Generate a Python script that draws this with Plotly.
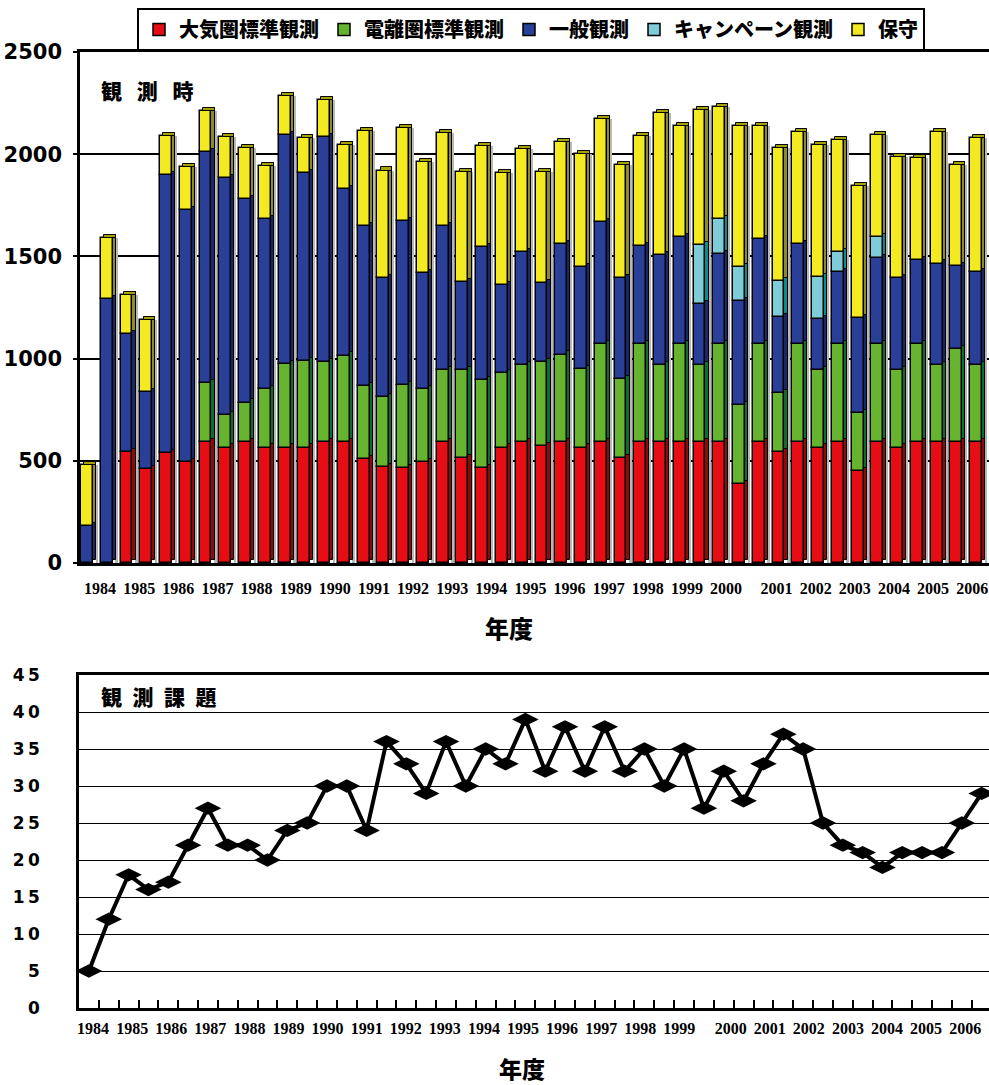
import numpy as np
import plotly.graph_objects as go

# ---------------- data ----------------
years = [str(y) for y in range(1984, 2007)]
series_names = ["大気圏標準観測", "電離圏標準観測", "一般観測", "キャンペーン観測", "保守"]

red = [0, 0, 545, 460, 540, 495, 590, 565, 590, 565, 565, 565, 590, 590, 510, 470,
       465, 495, 590, 515, 465, 565, 590, 570, 590, 565, 590, 515, 590, 590, 590, 590,
       590, 385, 590, 545, 590, 565, 590, 450, 590, 565, 590, 590, 590, 590]
green = [0, 0, 0, 0, 0, 0, 290, 160, 195, 285, 410, 425, 395, 425, 355, 340,
         405, 355, 355, 430, 430, 365, 380, 415, 430, 385, 480, 385, 480, 380, 480, 380,
         480, 390, 480, 285, 480, 380, 480, 285, 480, 380, 480, 380, 455, 380]
blue = [180, 1290, 575, 375, 1360, 1230, 1130, 1160, 995, 835, 1120, 920, 1100, 815, 785, 585,
        805, 570, 705, 430, 650, 430, 550, 385, 540, 500, 600, 495, 480, 535, 525, 295,
        440, 505, 515, 375, 490, 250, 355, 465, 420, 450, 410, 495, 410, 455]
cyan = [0, 0, 0, 0, 0, 0, 0, 0, 0, 0, 0, 0, 0, 0, 0, 0,
        0, 0, 0, 0, 0, 0, 0, 0, 0, 0, 0, 0, 0, 0, 0, 290,
        175, 170, 0, 175, 0, 205, 95, 0, 105, 0, 0, 0, 0, 0]
yellow = [300, 300, 190, 355, 190, 210, 200, 200, 250, 255, 190, 170, 180, 215, 465, 525,
          455, 540, 455, 540, 495, 550, 505, 545, 500, 550, 500, 550, 540, 695, 545, 660,
          545, 690, 555, 650, 550, 645, 550, 645, 500, 590, 500, 645, 490, 655]

topics = [5, 12, 18, 16, 17, 22, 27, 22, 22, 20, 24, 25, 30, 30, 24, 36, 33, 29, 36, 30,
          35, 33, 39, 32, 38, 32, 38, 32, 35, 30, 35, 27, 32, 28, 33, 37, 35, 25, 22, 21,
          19, 21, 21, 21, 25, 29]

top_yticks = [0, 500, 1000, 1500, 2000, 2500]
bot_yticks = [0, 5, 10, 15, 20, 25, 30, 35, 40, 45]

# ---------------- style ----------------
front_cols = ["#E60D14", "#66B32F", "#2A3F98", "#7FCCD9", "#F3EA22"]
side_cols = ["#8E0B0B", "#0F6B2E", "#1B2868", "#0C8A8C", "#8C8A2C"]
cap_col = "#A8A000"
W, D, DY = 0.6, 0.16, 15.0

W_PX, H_PX = 989, 1085
def px_x(p):
    return p / W_PX
def px_y(p):
    return 1 - p / H_PX

n = len(red)
xs = np.arange(n)
stack = np.array([red, green, blue, cyan, yellow], dtype=float)
cum = np.vstack([np.zeros(n), np.cumsum(stack, axis=0)])
totals = cum[-1]

fig = go.Figure()

# shadow strip on back wall
fig.add_trace(go.Bar(x=xs, y=totals, base=np.zeros(n), width=0.1, offset=W / 2 + D,
                     marker=dict(color="#B8B8B8", line=dict(width=0)),
                     showlegend=False, hoverinfo="skip", xaxis="x", yaxis="y"))

for k in range(5):
    vals = stack[k]
    mask = vals > 0
    # side faces
    fig.add_trace(go.Bar(x=xs[mask], y=vals[mask], base=cum[k][mask] + DY, width=D, offset=W / 2,
                         marker=dict(color=side_cols[k], line=dict(color="black", width=1)),
                         showlegend=False, hoverinfo="skip", xaxis="x", yaxis="y"))
    # front faces
    fig.add_trace(go.Bar(x=xs[mask], y=vals[mask], base=cum[k][mask], width=W, offset=-W / 2,
                         name=series_names[k],
                         marker=dict(color=front_cols[k], line=dict(color="black", width=1.5)),
                         xaxis="x", yaxis="y"))

# top caps
fig.add_trace(go.Bar(x=xs, y=np.full(n, DY), base=totals, width=W, offset=-W / 2 + D,
                     marker=dict(color=cap_col, line=dict(color="black", width=1)),
                     showlegend=False, hoverinfo="skip", xaxis="x", yaxis="y"))

# line chart
xi = np.arange(len(topics))
fig.add_trace(go.Scatter(x=xi, y=topics, mode="lines+markers",
                         line=dict(color="black", width=4),
                         marker=dict(symbol="diamond-wide", size=19, color="black"),
                         showlegend=False, xaxis="x2", yaxis="y2"))
# dummy for tick-mark overlay axis
fig.add_trace(go.Scatter(x=[0], y=[None], mode="markers", showlegend=False,
                         hoverinfo="skip", xaxis="x3", yaxis="y2"))

# tick label positions (category-index units)
top_tickpos = [0.66 + 1.98 * k if k <= 16 else 34.9 + 1.98 * (k - 17) for k in range(len(years))]
bot_tickpos = [0.21 + 1.97 * k if k <= 15 else 32.35 + 1.97 * (k - 16) for k in range(len(years))]

tick_font_x = dict(family="Liberation Serif", size=16, color="black", weight="bold")
ytick_font = dict(family="DejaVu Sans", size=21, color="black", weight="bold")
ytick_font2 = dict(family="DejaVu Sans", size=17, color="black", weight="bold")
jp_font = "Noto Sans CJK JP"

fig.update_layout(
    width=W_PX, height=H_PX,
    margin=dict(l=0, r=0, t=0, b=0, autoexpand=False),
    paper_bgcolor="white", plot_bgcolor="white",
    barmode="overlay", bargap=0,
    xaxis=dict(domain=[px_x(80), 1], range=[-0.354, 45.65], anchor="y",
               tickmode="array", tickvals=top_tickpos, ticktext=years,
               tickfont=tick_font_x, ticks="outside", ticklen=9, tickcolor="rgba(0,0,0,0)",
               showgrid=False, zeroline=False,
               showline=True, linecolor="black", linewidth=3, mirror=True),
    yaxis=dict(domain=[px_y(563), px_y(52)], range=[0, 2500], anchor="x",
               tickmode="array", tickvals=top_yticks, ticktext=[str(v) for v in top_yticks],
               tickfont=ytick_font, ticks="outside", ticklen=4, tickwidth=2, tickcolor="black",
               ticklabelstandoff=7,
               showgrid=True, gridcolor="black", gridwidth=1.5, zeroline=False,
               showline=True, linecolor="black", linewidth=2.5),
    xaxis2=dict(domain=[px_x(79), 1], range=[-0.5, 45.37], anchor="y2",
                tickmode="array", tickvals=bot_tickpos, ticktext=years,
                tickfont=tick_font_x, ticks="outside", ticklen=4, tickcolor="rgba(0,0,0,0)",
                showgrid=False, zeroline=False,
                showline=True, linecolor="black", linewidth=2.5, mirror=True),
    xaxis3=dict(domain=[px_x(79), 1], range=[-0.5, 45.37], anchor="y2", overlaying="x2",
                tickmode="array", tickvals=[i + 0.5 for i in range(len(topics) - 1)],
                ticks="inside", ticklen=8, tickwidth=2, tickcolor="black",
                showticklabels=False, showgrid=False, zeroline=False, showline=False),
    yaxis2=dict(domain=[px_y(1008), px_y(675)], range=[0, 45], anchor="x2",
                tickmode="array", tickvals=bot_yticks,
                ticktext=["\u2009".join(str(v)) for v in bot_yticks],
                tickfont=ytick_font2, ticks="", ticklabelstandoff=33,
                showgrid=True, gridcolor="black", gridwidth=1.2, zeroline=False,
                showline=True, linecolor="black", linewidth=2.5),
    legend=dict(orientation="h", x=px_x(137), y=px_y(8), xanchor="left", yanchor="top",
                bordercolor="black", borderwidth=2, bgcolor="white",
                font=dict(family=jp_font, size=20, color="black", weight=900),
                itemwidth=30, tracegroupgap=0, traceorder="normal",
                itemclick=False, itemdoubleclick=False),
    annotations=[
        dict(text="観\u2002\u2009測\u2002\u2009時", x=px_x(99), y=px_y(90), xref="paper", yref="paper",
             xanchor="left", yanchor="middle", showarrow=False,
             font=dict(family=jp_font, size=21, color="black", weight=900)),
        dict(text="観\u2002測\u2002課\u2002題", x=px_x(99), y=px_y(696), xref="paper", yref="paper",
             xanchor="left", yanchor="middle", showarrow=False,
             font=dict(family=jp_font, size=21, color="black", weight=900)),
        dict(text="年度", x=px_x(509), y=px_y(627), xref="paper", yref="paper",
             xanchor="center", yanchor="middle", showarrow=False,
             font=dict(family=jp_font, size=24, color="black", weight=900)),
        dict(text="年度", x=px_x(522), y=px_y(1068), xref="paper", yref="paper",
             xanchor="center", yanchor="middle", showarrow=False,
             font=dict(family=jp_font, size=23, color="black", weight=900)),
    ],
)

fig.write_html("out.html")
